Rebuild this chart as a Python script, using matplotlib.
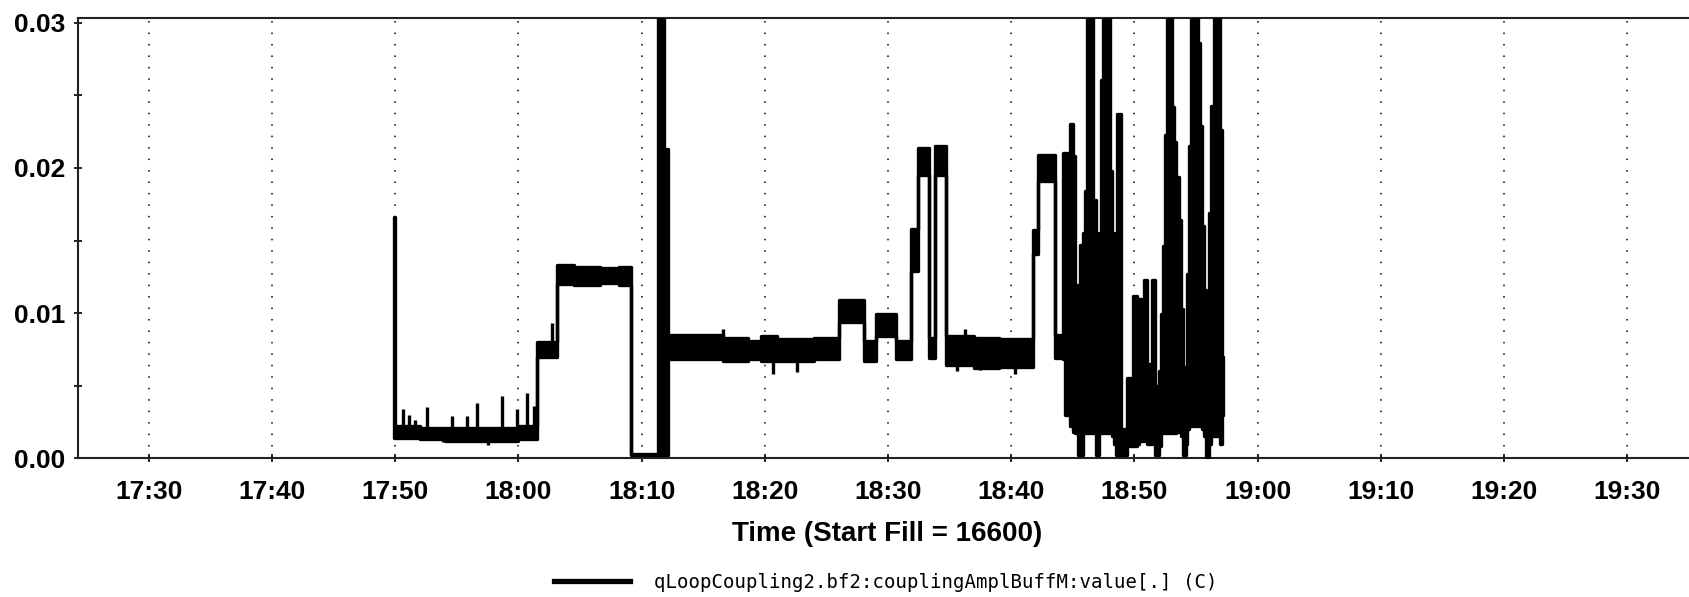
import matplotlib
matplotlib.use('Agg')
import matplotlib.pyplot as plt
from matplotlib.lines import Line2D
from matplotlib.ticker import MultipleLocator, FormatStrFormatter

# axis texts
tick_labels = ['17:30', '17:40', '17:50', '18:00', '18:10', '18:20', '18:30',
               '18:40', '18:50', '19:00', '19:10', '19:20', '19:30']
x_label = 'Time (Start Fill = 16600)'
series_label = 'qLoopCoupling2.bf2:couplingAmplBuffM:value[.] (C)'

# trace read off the plot as blocks: start (minutes after 17:00),
# lower and upper edge of the noisy trace until the next start
t_min = [49.88, 49.98, 52.0, 54.0, 58.0, 60.0,
         61.50, 63.12, 64.5, 66.6, 68.2,
         69.17, 71.30, 71.82,
         72.15, 76.6, 78.6, 79.7, 81.0, 84.0,
         86.06, 88.02, 89.03, 90.67,
         91.88, 92.47, 93.30, 93.85,
         94.72, 97.0, 99.0,
         101.78, 102.21, 103.56,
         104.24, 104.40, 104.73, 104.98, 105.19, 105.43, 105.59, 105.81,
         105.95, 106.13, 106.60, 106.86, 107.15, 107.30, 107.45, 107.98,
         108.20, 108.35, 108.50, 108.62, 108.90, 109.38, 109.75, 109.87,
         110.19, 110.33, 110.60, 110.79, 111.06, 111.41, 111.70, 112.00,
         112.15, 112.30, 112.45, 112.65, 113.04, 113.22, 113.40, 113.58,
         113.75, 113.92, 114.20, 114.30, 114.45, 114.62, 115.15, 115.30,
         115.45, 115.62, 115.80, 116.05, 116.25, 116.45, 116.93, 117.12,
         117.22]
v_low = [0.0014, 0.0014, 0.0013, 0.0012, 0.0012, 0.0013,
         0.0070, 0.0120, 0.0119, 0.0121, 0.0119,
         0.0002, 0.0002, 0.0002,
         0.0068, 0.0067, 0.0068, 0.0067, 0.0067, 0.0068,
         0.0094, 0.0067, 0.0084, 0.0068,
         0.0129, 0.0195, 0.0069, 0.0195,
         0.0064, 0.0062, 0.0063,
         0.0141, 0.0191, 0.0069,
         0.0068, 0.0030, 0.0022, 0.0018, 0.0017, 0.0002, 0.0002, 0.0017,
         0.0017, 0.0017, 0.0017, 0.0002, 0.0017, 0.0017, 0.0017, 0.0020,
         0.0015, 0.0010, 0.0002, 0.0002, 0.0002, 0.0008, 0.0008, 0.0008,
         0.0010, 0.0012, 0.0012, 0.0012, 0.0010, 0.0010, 0.0002, 0.0008,
         0.0017, 0.0017, 0.0017, 0.0017, 0.0017, 0.0017, 0.0018, 0.0018,
         0.0015, 0.0002, 0.0010, 0.0020, 0.0022, 0.0022, 0.0022, 0.0022,
         0.0020, 0.0015, 0.0000, 0.0010, 0.0015, 0.0015, 0.0010, 0.0030,
         0.0030]
v_high = [0.0166, 0.0022, 0.0021, 0.0021, 0.0021, 0.0022,
          0.0080, 0.0133, 0.0132, 0.0131, 0.0132,
          0.0003, 0.0320, 0.0213,
          0.0085, 0.0083, 0.0081, 0.0084, 0.0082, 0.0083,
          0.0109, 0.0081, 0.0099, 0.0081,
          0.0158, 0.0214, 0.0083, 0.0215,
          0.0084, 0.0083, 0.0082,
          0.0157, 0.0209, 0.0085,
          0.0210, 0.0210, 0.0230, 0.0208, 0.0119, 0.0119, 0.0147, 0.0155,
          0.0184, 0.0320, 0.0178, 0.0150, 0.0155, 0.0261, 0.0320, 0.0198,
          0.0155, 0.0114, 0.0060, 0.0237, 0.0020, 0.0055, 0.0040, 0.0112,
          0.0060, 0.0110, 0.0065, 0.0123, 0.0065, 0.0123, 0.0050, 0.0060,
          0.0099, 0.0146, 0.0223, 0.0320, 0.0242, 0.0218, 0.0194, 0.0164,
          0.0103, 0.0052, 0.0063, 0.0127, 0.0215, 0.0320, 0.0286, 0.0229,
          0.0160, 0.0116, 0.0099, 0.0169, 0.0243, 0.0320, 0.0226, 0.0070,
          0.0070]

# single-sample excursions out of the noise band
spike_t = [50.67, 51.15, 51.62, 52.56, 54.59, 55.86, 56.62, 58.65, 59.87, 60.68,
           61.27, 53.91, 57.57, 62.71, 76.59, 80.70, 82.60, 96.26, 95.60, 97.50,
           100.30]
spike_base = [0.0020, 0.0020, 0.0020, 0.0020, 0.0020, 0.0020, 0.0020, 0.0020,
              0.0020, 0.0020, 0.0020, 0.0014, 0.0013, 0.0078, 0.0082, 0.0068,
              0.0068, 0.0082, 0.0064, 0.0063, 0.0064]
spike_tip = [0.0034, 0.0030, 0.0026, 0.0035, 0.0029, 0.0029, 0.0038, 0.0043,
             0.0034, 0.0045, 0.0036, 0.0011, 0.0009, 0.0093, 0.0089, 0.0058,
             0.0059, 0.0089, 0.0060, 0.0061, 0.0058]

tick_pos = [int(s[:2]) * 60 + int(s[3:]) - 17 * 60 for s in tick_labels]

fig = plt.figure(figsize=(16.9, 5.97), dpi=100)
ax = fig.add_axes([0.0460, 0.2328, 0.9582, 0.7372])

ax.fill_between(t_min, v_low, v_high, step='post', facecolor='black',
                edgecolor='black', linewidth=2.4, joinstyle='round', zorder=3)
ax.vlines(spike_t, spike_base, spike_tip, colors='black', linewidth=2.4, zorder=3)

ax.set_xlim(24.23, 155.67)
ax.set_ylim(0, 0.03035)

ax.set_xticks(tick_pos)
ax.set_xticklabels(tick_labels)
ax.yaxis.set_major_locator(MultipleLocator(0.01))
ax.yaxis.set_minor_locator(MultipleLocator(0.005))
ax.yaxis.set_major_formatter(FormatStrFormatter('%.2f'))

tick_font = {'family': 'Liberation Sans', 'weight': 'bold', 'size': 19}
for lab in ax.get_xticklabels() + ax.get_yticklabels():
    lab.set_fontproperties(tick_font)

ax.tick_params(axis='x', direction='inout', length=6, width=1.2, pad=13)
ax.tick_params(axis='y', which='both', direction='inout', length=5.5, width=1.2, pad=6.5)
ax.grid(axis='x', color='black', linewidth=1.1, linestyle=(0, (1, 6.5)))

for side in ['left', 'top', 'bottom']:
    ax.spines[side].set_linewidth(1.5)
    ax.spines[side].set_color('#222222')
ax.spines['right'].set_visible(False)

ax.set_xlabel(x_label, fontfamily='Liberation Sans', fontweight='bold',
              fontsize=20, labelpad=12)

handle = Line2D([], [], color='black', linewidth=3.8)
fig.legend([handle], [series_label], loc='center', bbox_to_anchor=(0.5243, 0.0251),
           frameon=False, prop={'family': 'DejaVu Sans Mono', 'size': 13.7},
           handlelength=4.0, handletextpad=1.26)

fig.savefig('out.png', dpi=100)
